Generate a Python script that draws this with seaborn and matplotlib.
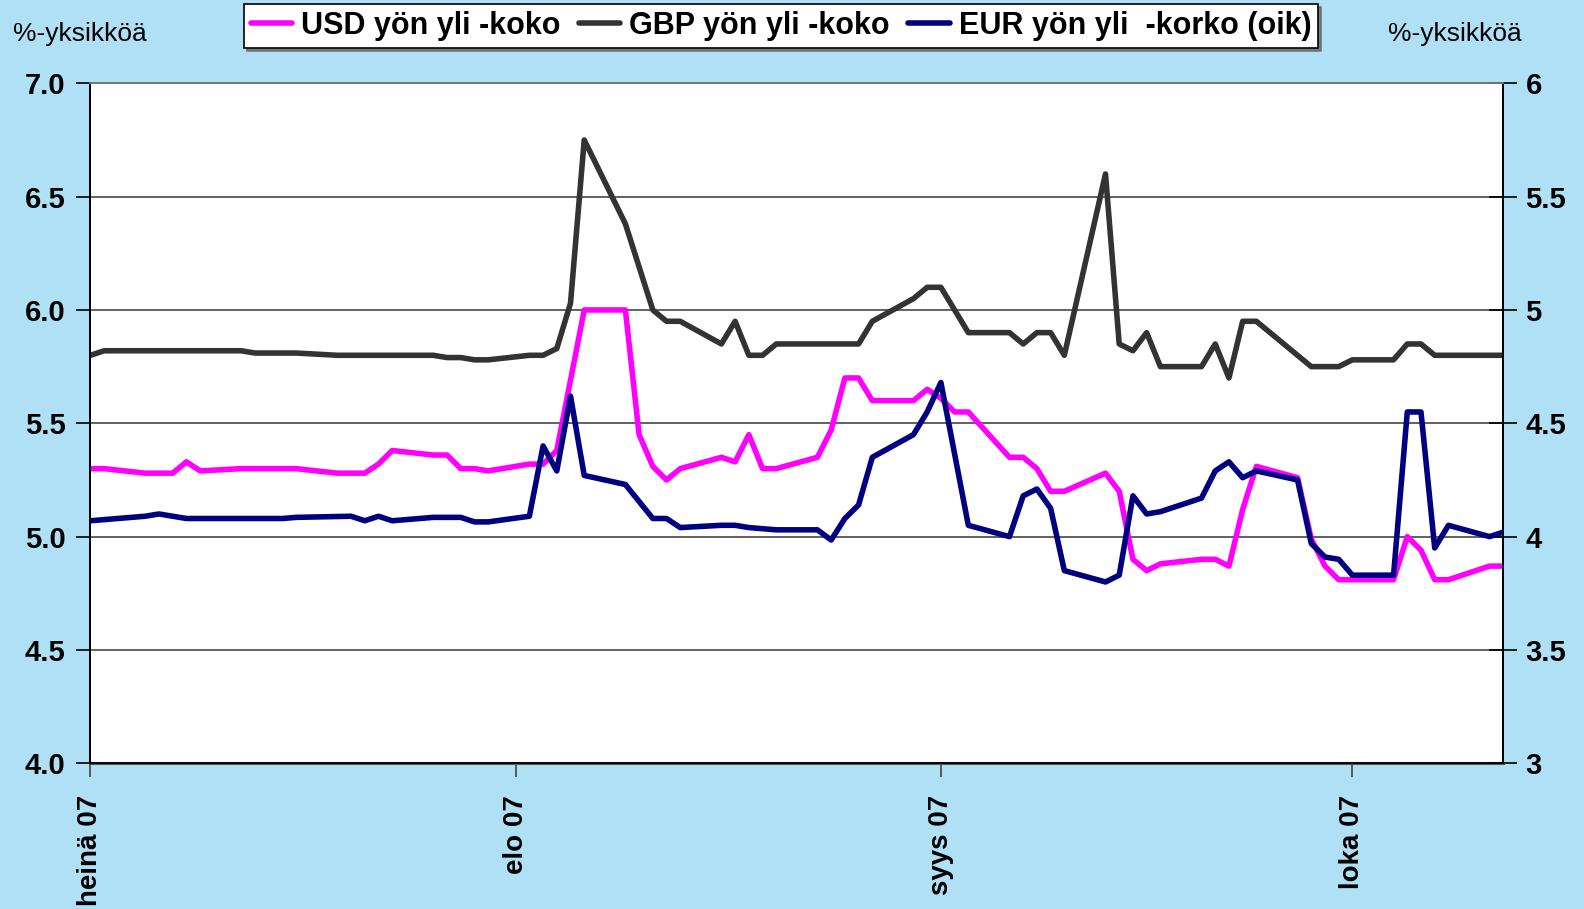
import numpy as np
import pandas as pd
import matplotlib
matplotlib.use("Agg")
import matplotlib.pyplot as plt
import seaborn as sns

# yön yli -korot, luettu kuvasta (vasen akseli USD/GBP, oikea EUR)
usd_dates = ['2007-07-01', '2007-07-02', '2007-07-05', '2007-07-07', '2007-07-08', '2007-07-09',
             '2007-07-12', '2007-07-16', '2007-07-19', '2007-07-21', '2007-07-22', '2007-07-23',
             '2007-07-26', '2007-07-27', '2007-07-28', '2007-07-29', '2007-07-30', '2007-08-02',
             '2007-08-03', '2007-08-04', '2007-08-06', '2007-08-09', '2007-08-10', '2007-08-11',
             '2007-08-12', '2007-08-13', '2007-08-16', '2007-08-17', '2007-08-18', '2007-08-19',
             '2007-08-20', '2007-08-23', '2007-08-24', '2007-08-25', '2007-08-26', '2007-08-27',
             '2007-08-30', '2007-08-31', '2007-09-01', '2007-09-02', '2007-09-03', '2007-09-06',
             '2007-09-07', '2007-09-08', '2007-09-09', '2007-09-10', '2007-09-13', '2007-09-14',
             '2007-09-15', '2007-09-16', '2007-09-17', '2007-09-20', '2007-09-21', '2007-09-22',
             '2007-09-23', '2007-09-24', '2007-09-27', '2007-09-28', '2007-09-29', '2007-09-30',
             '2007-10-04', '2007-10-05', '2007-10-06', '2007-10-07', '2007-10-08', '2007-10-11',
             '2007-10-12']
usd_vals = [5.30, 5.30, 5.28, 5.28, 5.33, 5.29,
            5.30, 5.30, 5.28, 5.28, 5.32, 5.38,
            5.36, 5.36, 5.30, 5.30, 5.29, 5.32,
            5.32, 5.38, 6.00, 6.00, 5.45, 5.31,
            5.25, 5.30, 5.35, 5.33, 5.45, 5.30,
            5.30, 5.35, 5.47, 5.70, 5.70, 5.60,
            5.60, 5.65, 5.61, 5.55, 5.55, 5.35,
            5.35, 5.30, 5.20, 5.20, 5.28, 5.20,
            4.90, 4.85, 4.88, 4.90, 4.90, 4.87,
            5.12, 5.31, 5.26, 4.99, 4.87, 4.81,
            4.81, 5.00, 4.94, 4.81, 4.81, 4.87,
            4.87]

gbp_dates = ['2007-07-01', '2007-07-02', '2007-07-12', '2007-07-13', '2007-07-16', '2007-07-19',
             '2007-07-26', '2007-07-27', '2007-07-28', '2007-07-29', '2007-07-30', '2007-08-02',
             '2007-08-03', '2007-08-04', '2007-08-05', '2007-08-06', '2007-08-09', '2007-08-10',
             '2007-08-11', '2007-08-12', '2007-08-13', '2007-08-16', '2007-08-17', '2007-08-18',
             '2007-08-19', '2007-08-20', '2007-08-26', '2007-08-27', '2007-08-30', '2007-08-31',
             '2007-09-01', '2007-09-03', '2007-09-06', '2007-09-07', '2007-09-08', '2007-09-09',
             '2007-09-10', '2007-09-13', '2007-09-14', '2007-09-15', '2007-09-16', '2007-09-17',
             '2007-09-20', '2007-09-21', '2007-09-22', '2007-09-23', '2007-09-24', '2007-09-28',
             '2007-09-30', '2007-10-01', '2007-10-04', '2007-10-05', '2007-10-06', '2007-10-07',
             '2007-10-12']
gbp_vals = [5.80, 5.82, 5.82, 5.81, 5.81, 5.80,
            5.80, 5.79, 5.79, 5.78, 5.78, 5.80,
            5.80, 5.83, 6.03, 6.75, 6.38, 6.19,
            6.00, 5.95, 5.95, 5.85, 5.95, 5.80,
            5.80, 5.85, 5.85, 5.95, 6.05, 6.10,
            6.10, 5.90, 5.90, 5.85, 5.90, 5.90,
            5.80, 6.60, 5.85, 5.82, 5.90, 5.75,
            5.75, 5.85, 5.70, 5.95, 5.95, 5.75,
            5.75, 5.78, 5.78, 5.85, 5.85, 5.80,
            5.80]

eur_dates = ['2007-07-01', '2007-07-05', '2007-07-06', '2007-07-07', '2007-07-08', '2007-07-15',
             '2007-07-16', '2007-07-20', '2007-07-21', '2007-07-22', '2007-07-23', '2007-07-26',
             '2007-07-28', '2007-07-29', '2007-07-30', '2007-08-02', '2007-08-03', '2007-08-04',
             '2007-08-05', '2007-08-06', '2007-08-09', '2007-08-10', '2007-08-11', '2007-08-12',
             '2007-08-13', '2007-08-16', '2007-08-17', '2007-08-18', '2007-08-20', '2007-08-23',
             '2007-08-24', '2007-08-25', '2007-08-26', '2007-08-27', '2007-08-30', '2007-08-31',
             '2007-09-01', '2007-09-03', '2007-09-06', '2007-09-07', '2007-09-08', '2007-09-09',
             '2007-09-10', '2007-09-13', '2007-09-14', '2007-09-15', '2007-09-16', '2007-09-17',
             '2007-09-20', '2007-09-21', '2007-09-22', '2007-09-23', '2007-09-24', '2007-09-27',
             '2007-09-28', '2007-09-29', '2007-09-30', '2007-10-01', '2007-10-04', '2007-10-05',
             '2007-10-06', '2007-10-07', '2007-10-08', '2007-10-11', '2007-10-12']
eur_vals = [4.07, 4.09, 4.10, 4.09, 4.08, 4.08,
            4.085, 4.09, 4.07, 4.09, 4.07, 4.085,
            4.085, 4.065, 4.065, 4.09, 4.40, 4.29,
            4.62, 4.27, 4.23, 4.155, 4.08, 4.08,
            4.04, 4.05, 4.05, 4.04, 4.03, 4.03,
            3.985, 4.08, 4.14, 4.35, 4.45, 4.55,
            4.68, 4.05, 4.00, 4.18, 4.21, 4.125,
            3.85, 3.80, 3.83, 4.18, 4.10, 4.11,
            4.17, 4.29, 4.33, 4.26, 4.29, 4.25,
            3.97, 3.91, 3.90, 3.83, 3.83, 4.55,
            4.55, 3.95, 4.05, 4.00, 4.02]

series_names = ['USD yön yli -koko', 'GBP yön yli -koko', 'EUR yön yli  -korko (oik)']
month_ticks = ['2007-07-01', '2007-08-01', '2007-09-01', '2007-10-01']
month_labels = ['heinä 07', 'elo 07', 'syys 07', 'loka 07']
left_ticks = [4.0, 4.5, 5.0, 5.5, 6.0, 6.5, 7.0]
right_ticks = [3, 3.5, 4, 4.5, 5, 5.5, 6]
unit_label = '%-yksikköä'

sns.set_theme(style="ticks")
plt.rcParams['font.family'] = ['Liberation Sans', 'DejaVu Sans']
plt.rcParams['text.color'] = 'black'
plt.rcParams['xtick.labelcolor'] = 'black'
plt.rcParams['ytick.labelcolor'] = 'black'

usd = pd.DataFrame({'pvm': pd.to_datetime(usd_dates), 'korko': usd_vals})
gbp = pd.DataFrame({'pvm': pd.to_datetime(gbp_dates), 'korko': gbp_vals})
eur = pd.DataFrame({'pvm': pd.to_datetime(eur_dates), 'korko': eur_vals})

W, H = 1584, 909
fig = plt.figure(figsize=(W / 100, H / 100), dpi=100, facecolor='#b0e0f5')
ax = fig.add_axes([90.4 / W, 1 - 763.3 / H, 1412.9 / W, 680 / H])
ax.set_facecolor('white')
ax2 = ax.twinx()

lw = 4.0
sns.lineplot(data=usd, x='pvm', y='korko', ax=ax, color='#ff00ff', lw=lw,
             label=series_names[0], legend=False, solid_joinstyle='round')
sns.lineplot(data=gbp, x='pvm', y='korko', ax=ax, color='#333333', lw=lw,
             label=series_names[1], legend=False, solid_joinstyle='round')
sns.lineplot(data=eur, x='pvm', y='korko', ax=ax2, color='#000080', lw=lw,
             label=series_names[2], legend=False, solid_joinstyle='round')

ax.set_xlim(pd.Timestamp('2007-07-01'), pd.Timestamp('2007-10-12'))
ax.set_ylim(4, 7)
ax2.set_ylim(3, 6)
ax.set_xlabel('')
ax.set_ylabel('')
ax2.set_ylabel('')

ax.set_yticks(left_ticks)
ax.set_yticklabels([f'{v:.1f}' for v in left_ticks], fontsize=21, fontweight='bold')
ax2.set_yticks(right_ticks)
ax2.set_yticklabels([f'{v:g}' for v in right_ticks], fontsize=21, fontweight='bold')
ax.set_xticks(pd.to_datetime(month_ticks))
ax.set_xticklabels(month_labels, rotation=90, fontsize=20, fontweight='bold', va='top')

ax.grid(axis='y', color='#555555', lw=1.3)
ax.set_axisbelow(True)
ax.tick_params(axis='y', direction='out', length=10, width=1.2, color='black', pad=8)
ax.tick_params(axis='x', direction='out', length=10, width=1.2, color='#444444', pad=13)
ax2.tick_params(axis='y', direction='inout', length=20, width=1.2, color='black', pad=6)

for a in (ax, ax2):
    for side in ['left', 'right', 'bottom']:
        a.spines[side].set_color('black')
        a.spines[side].set_linewidth(1.3)
    a.spines['top'].set_color('#777777')
    a.spines['top'].set_linewidth(1.3)
ax.spines['bottom'].set_linewidth(2.2)
ax.spines['bottom'].set_color('#555555')

h1, l1 = ax.get_legend_handles_labels()
h2, l2 = ax2.get_legend_handles_labels()
leg = fig.legend(h1 + h2, l1 + l2, loc='center', bbox_to_anchor=(781 / W, 1 - 26 / H),
                 ncol=3, frameon=True, fancybox=False, edgecolor='black',
                 prop={'weight': 'bold', 'size': 22}, handlelength=1.35,
                 handletextpad=0.3, columnspacing=0.6, borderpad=0.22,
                 shadow={'color': '#666666', 'alpha': 0.8})
leg.get_frame().set_linewidth(1.2)
leg.get_frame().set_facecolor('white')
leg.get_frame().set_alpha(1)

fig.text(13 / W, 1 - 34 / H, unit_label, fontsize=19, ha='left', va='center')
fig.text(1522 / W, 1 - 34 / H, unit_label, fontsize=19, ha='right', va='center')

fig.savefig('out.png', dpi=100, facecolor=fig.get_facecolor())
